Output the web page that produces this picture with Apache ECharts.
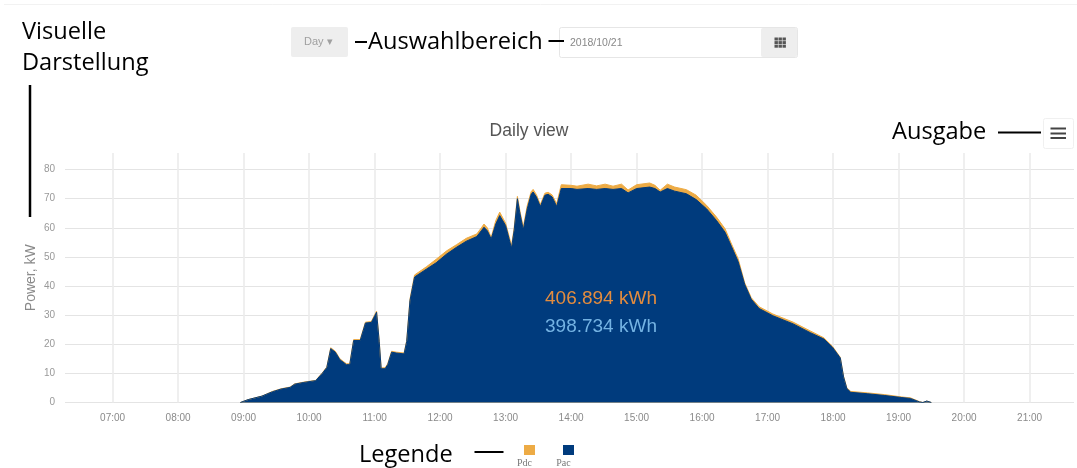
<!DOCTYPE html>
<html>
<head>
<meta charset="utf-8">
<style>html,body{margin:0;padding:0;background:#fff}#c{width:1077px;height:468px}</style>
<script src="https://cdn.jsdelivr.net/npm/echarts@6/dist/echarts.min.js"></script>
</head>
<body>
<div id="c"></div>
<script>
const hourTicks = [7,8,9,10,11,12,13,14,15,16,17,18,19,20,21];
const powerTicks = [0,10,20,30,40,50,60,70,80];
const hours = [8.95,9.07,9.28,9.44,9.57,9.71,9.78,9.92,10.1,10.2,10.27,10.33,10.4,10.47,10.57,10.62,10.68,10.78,10.86,10.95,11.03,11.07,11.1,11.16,11.2,11.26,11.33,11.45,11.49,11.54,11.61,11.79,11.94,12.1,12.25,12.4,12.56,12.63,12.67,12.72,12.78,12.85,12.91,12.94,13.0,13.09,13.13,13.18,13.22,13.27,13.33,13.39,13.42,13.47,13.53,13.6,13.65,13.71,13.78,13.85,14.0,14.09,14.26,14.39,14.52,14.64,14.77,14.87,15.0,15.2,15.28,15.36,15.47,15.58,15.76,15.91,16.07,16.22,16.35,16.45,16.55,16.65,16.75,16.87,17.08,17.39,17.65,17.86,17.99,18.11,18.16,18.21,18.27,18.53,18.79,19.05,19.18,19.32,19.35,19.37,19.43,19.5];
const pacValues = [0,1,2.2,3.7,4.6,5.2,6.3,6.9,7.5,10,12,18.5,17.3,14.7,13,13,21.3,21.3,27.3,27.5,31,21,11.6,11.6,13,17.3,17,16.7,21,35,43.1,45.8,48,51,53.3,55.4,57,59,60.2,59,56.2,61.3,64.2,64.8,60.8,53,59,70,64.8,59.3,66.5,71.5,72.3,70.6,67.3,71.2,71.5,70.6,67.3,73.5,73.5,73.2,73.5,73.2,73.5,73.2,73.5,72,73.5,74,73.5,72.3,73.5,72.6,71.7,69.7,66.5,62.5,58.5,53.5,48.4,40.6,35.5,32.3,29.8,27,24,21.8,19,15.3,8.8,4.8,3.5,3,2.4,1.7,1.4,0.2,0,0,0.5,0];
const pdcValues = [0,1,2.2,3.8,4.7,5.3,6.4,7,7.6,10.1,12.2,18.8,17.6,15,13.3,13.3,21.6,21.6,27.6,27.8,31.4,21.3,11.9,11.9,13.3,17.6,17.3,17,21.3,35.5,43.8,46.6,49.2,52.1,54.2,56.4,57.9,60,61.3,60,56.7,62.5,65.4,66,61.6,53.9,59.8,70.8,65.6,60.2,67.6,72.4,73.2,71.4,68,71.9,72.2,71.3,68.3,74.8,74.6,74.3,75,74.4,75,74.3,75,73,74.8,75.4,74.6,72.9,75,74,73.1,71.2,67.7,63.7,59.7,54.4,49.4,41.1,36,32.9,30.4,27.6,24.6,22.2,19.3,15.5,9,5,3.8,3.3,2.7,1.9,1.6,0.3,0,0,0.5,0];
const seriesNames = ['Pdc','Pac'];
const seriesColors = ['#EDAB45','#003B7D'];
const totals = ['406.894 kWh','398.734 kWh'];

const hourLabel = v => String(v).padStart(2,'0') + ':00';
const toPairs = ys => hours.map((h,i)=>[h,ys[i]]);
const areaSeries = (name,color,ys) => ({
  name, type:'line', data:toPairs(ys), symbol:'none', showSymbol:false, smooth:false,
  lineStyle:{color,width:1}, itemStyle:{color}, areaStyle:{color,opacity:1}, animation:false
});
const ink = '#000';
const note = (text,x,y) => ({type:'text',z:100,style:{text,x,y,fill:ink,font:'23.6px "Open Sans", sans-serif',verticalAlign:'middle',align:'left'}});
const bar = (x1,y1,x2,y2,w,c) => ({type:'line',z:100,shape:{x1,y1,x2,y2},style:{stroke:c||ink,lineWidth:w||2}});
const box = (x,y,width,height,fill,stroke) => ({type:'rect',z:90,shape:{x,y,width,height,r:2},style:{fill,stroke:stroke||null,lineWidth:1}});
const small = (text,x,y,fill,font,align) => ({type:'text',z:100,style:{text,x,y,fill,font,align:align||'left',verticalAlign:'middle'}});

const gridIcon = [];
for (let r=0;r<3;r++) for (let c=0;c<3;c++) gridIcon.push({type:'rect',z:100,shape:{x:774.5+c*4,y:37.5+r*3.6,width:3.4,height:3},style:{fill:'#555'}});

const chart = echarts.init(document.getElementById('c'),null,{renderer:'canvas'});
chart.setOption({
  animation:false,
  backgroundColor:'#fff',
  title:{text:'Daily view',left:524,top:117,textAlign:'center',textStyle:{fontFamily:'Liberation Sans',fontSize:17.5,fontWeight:'normal',color:'#555'}},
  grid:{left:65,right:3,top:153,bottom:65.5,containLabel:false},
  legend:{data:seriesNames,left:519,top:440,itemWidth:11,itemHeight:10,itemGap:28,icon:'rect',formatter:()=>'',selectedMode:false,textStyle:{fontSize:1}},
  xAxis:{type:'value',min:6.273,max:21.678,
    axisLine:{show:false},axisTick:{show:false,customValues:hourTicks},
    axisLabel:{customValues:hourTicks,formatter:hourLabel,color:'#8a8a8a',fontSize:10,fontFamily:'Liberation Sans',margin:11},
    splitLine:{show:true,lineStyle:{color:'#ebebeb',width:1.6}}},
  yAxis:{type:'value',min:0,max:85.7,
    name:'Power, kW',nameLocation:'middle',nameGap:27,nameMoveOverlap:false,nameTextStyle:{color:'#8a8a8a',fontSize:14,fontFamily:'Liberation Sans'},
    axisLine:{show:false},axisTick:{show:false,customValues:powerTicks},
    axisLabel:{customValues:powerTicks,color:'#999',fontSize:10,fontFamily:'Liberation Sans',margin:10},
    splitLine:{show:true,lineStyle:{color:'#e4e4e4',width:1.2}}},
  series:[areaSeries(seriesNames[0],seriesColors[0],pdcValues),areaSeries(seriesNames[1],seriesColors[1],pacValues)],
  graphic:{elements:[
    bar(4,4.5,1077,4.5,1,'#f2f2f2'),
    note('Visuelle',22,32),note('Darstellung',22,63),
    bar(30,85,30,217,2.5),
    box(291,27,57,30,'#eeeeee'),
    small('Day ▾',304,42,'#a0a0a0','11px Liberation Sans'),
    bar(355,42,367,42,2),
    note('Auswahlbereich',368,42),
    box(559.5,27.5,238,30,'#fff','#e6e6e6'),
    box(761,28,36,29,'#eeeeee'),
    small('2018/10/21',570,43,'#888','10.5px Liberation Sans'),
    ...gridIcon,
    bar(548.5,41,564,41,2),
    note('Ausgabe',892,132),
    bar(998,132.5,1041,132.5,2),
    box(1043.5,118.5,30,30,'#fff','#f0f0f0'),
    bar(1050.5,128.5,1066,128.5,2,'#444'),bar(1050.5,133.5,1066,133.5,2,'#444'),bar(1050.5,138,1066,138,2,'#444'),
    small(totals[0],545,299,'#E38C3E','19px Liberation Sans'),
    small(totals[1],545,327,'#74B3E3','19px Liberation Sans'),
    note('Legende',359,455),
    bar(474.5,452,503.5,452,2),
    small(seriesNames[0],524.5,463,'#777','10px Liberation Serif','center'),
    small(seriesNames[1],563.5,463,'#777','10px Liberation Serif','center')
  ]}
});
</script>
</body>
</html>
